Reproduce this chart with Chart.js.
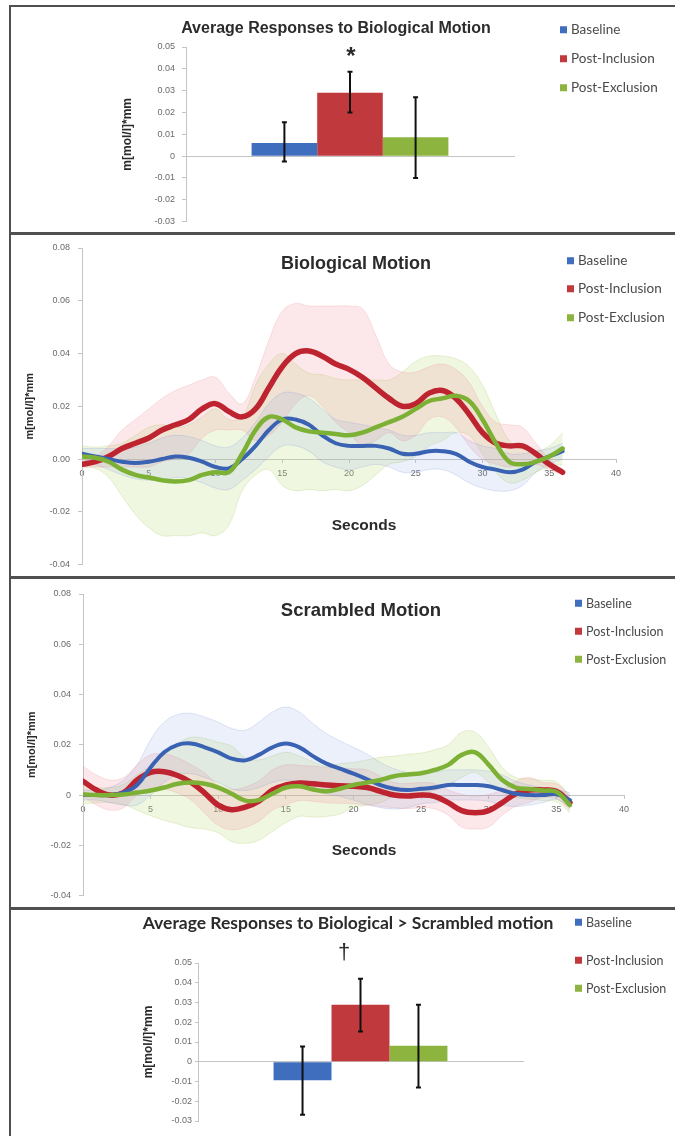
<!DOCTYPE html>
<html>
<head>
<meta charset="utf-8">
<script src="https://cdn.jsdelivr.net/npm/chart.js@4.4.1/dist/chart.umd.min.js"></script>
<style>
  html, body { margin:0; padding:0; background:#fff; }
  body { position:relative; width:675px; height:1136px; overflow:hidden; }
  canvas { position:absolute; left:0; }
  .t { position:absolute; white-space:nowrap; transform:translate(-50%,-50%); color:#2b2b2b; line-height:1; font-family:'Liberation Sans', Arial, sans-serif; font-weight:bold; }
  .lg { position:absolute; white-space:nowrap; transform:translateY(-50%); font-family:Lato, sans-serif; font-size:13.5px; color:#4a4a4a; line-height:1; }
  .lg i { display:inline-block; width:7px; height:7px; margin-right:4px; vertical-align:middle; position:relative; top:-1px; }
  .rule { position:absolute; background:#505050; }
</style>
</head>
<body>
<canvas id="c1" width="675" height="234" style="top:0px"></canvas>
<canvas id="c2" width="675" height="344" style="top:234px"></canvas>
<canvas id="c3" width="675" height="331" style="top:578px"></canvas>
<canvas id="c4" width="675" height="227" style="top:909px"></canvas>
<script>
// ---------- shared ----------
const groupNames = ['Baseline', 'Post-Inclusion', 'Post-Exclusion'];
const barColors = ['#3F6EBF', '#C0393D', '#8DB43F'];
const lineColors = ['#3A62B3', '#BE2430', '#7DB135'];
const bandColors = ['rgba(140,165,225,0.17)', 'rgba(238,140,150,0.20)', 'rgba(196,224,140,0.26)'];
const bandEdgeColors = ['rgba(120,140,210,0.22)', 'rgba(230,130,140,0.22)', 'rgba(180,205,120,0.30)'];
const barCategories = [''];
const yAxisTitle = 'm[mol/l]*mm';

// ---------- panel 1: bars, biological motion ----------
const bioBarValues = [0.006, 0.029, 0.0087];
const bioBarErrTop = [0.0155, 0.0387, 0.027];
const bioBarErrBottom = [-0.0025, 0.020, -0.010];

// ---------- panel 4: bars, biological > scrambled ----------
const diffBarValues = [-0.0094, 0.0288, 0.0081];
const diffBarErrTop = [0.0077, 0.042, 0.0288];
const diffBarErrBottom = [-0.0268, 0.0153, -0.013];

// ---------- time courses ----------
const seconds = [0,1,2,3,4,5,6,7,8,9,10,11,12,13,14,15,16,17,18,19,20,21,22,23,24,25,26,27,28,29,30,31,32,33,34,35,36];
const secondTicks = [0,5,10,15,20,25,30,35,40];

const bioBaseline = [0.002,0.001,0,-0.001,-0.0015,-0.001,0,0.001,0.0005,-0.001,-0.003,-0.0035,0,0.005,0.011,0.015,0.015,0.013,0.009,0.006,0.005,0.005,0.005,0.004,0.002,0.002,0.003,0.003,0.002,-0.001,-0.003,-0.004,-0.005,-0.004,-0.001,0.001,0.003];
const bioBaselineErr = [0.002,0.003,0.004,0.005,0.006,0.007,0.008,0.008,0.008,0.008,0.008,0.008,0.008,0.009,0.010,0.010,0.010,0.010,0.010,0.009,0.009,0.008,0.007,0.007,0.007,0.007,0.007,0.007,0.008,0.008,0.008,0.008,0.007,0.006,0.004,0.003,0.003];
const bioInclusion = [-0.002,-0.001,0.001,0.004,0.006,0.008,0.011,0.013,0.015,0.019,0.021,0.018,0.016,0.019,0.027,0.035,0.040,0.041,0.039,0.036,0.034,0.031,0.027,0.023,0.020,0.021,0.025,0.026,0.023,0.017,0.010,0.006,0.005,0.005,0.002,-0.002,-0.005];
const bioInclusionErr = [0.001,0.002,0.004,0.007,0.009,0.011,0.012,0.013,0.013,0.011,0.010,0.007,0.005,0.012,0.018,0.021,0.019,0.017,0.019,0.022,0.024,0.026,0.020,0.013,0.013,0.012,0.010,0.010,0.011,0.012,0.010,0.008,0.008,0.007,0.004,0.002,0.001];
const bioExclusion = [0.001,0.0005,-0.001,-0.004,-0.006,-0.007,-0.008,-0.0085,-0.008,-0.006,-0.005,-0.005,0.002,0.011,0.016,0.015,0.012,0.0105,0.010,0.0095,0.009,0.010,0.012,0.014,0.016,0.019,0.022,0.023,0.024,0.022,0.015,0.006,-0.001,-0.002,-0.001,0.001,0.004];
const bioExclusionErr = [0.004,0.004,0.006,0.010,0.015,0.019,0.021,0.0205,0.021,0.022,0.024,0.020,0.014,0.017,0.020,0.025,0.024,0.022,0.022,0.021,0.021,0.020,0.018,0.016,0.017,0.018,0.017,0.016,0.014,0.013,0.013,0.011,0.008,0.006,0.004,0.004,0.006];

const scrBaseline = [0,0,0,0.001,0.004,0.011,0.017,0.020,0.0205,0.019,0.017,0.0145,0.0138,0.016,0.019,0.0205,0.019,0.0155,0.0125,0.0105,0.0085,0.0063,0.004,0.0025,0.002,0.0025,0.003,0.004,0.004,0.004,0.0035,0.002,0.0005,0,0,0.0003,-0.002];
const scrBaselineErr = [0.002,0.002,0.003,0.005,0.008,0.011,0.012,0.012,0.012,0.012,0.012,0.012,0.012,0.013,0.014,0.0145,0.014,0.013,0.012,0.011,0.0105,0.010,0.009,0.008,0.007,0.006,0.006,0.006,0.006,0.006,0.006,0.006,0.005,0.004,0.003,0.002,0.003];
const scrInclusion = [0.0055,0.002,0,0.001,0.006,0.009,0.0093,0.0078,0.005,0.0008,-0.004,-0.0058,-0.0048,-0.0024,0.002,0.004,0.0048,0.0045,0.004,0.0037,0.0035,0.003,0.0015,0,-0.0004,0,-0.0005,-0.003,-0.0062,-0.007,-0.0062,-0.003,0.0005,0.002,0.002,0.0015,-0.003];
const scrInclusionErr = [0.006,0.006,0.006,0.006,0.006,0.007,0.007,0.007,0.007,0.008,0.008,0.008,0.008,0.008,0.008,0.008,0.007,0.007,0.007,0.007,0.007,0.007,0.006,0.005,0.005,0.005,0.005,0.005,0.0065,0.0065,0.0065,0.005,0.005,0.005,0.003,0.003,0.003];
const scrExclusion = [0.0003,0,0,0.0002,0.001,0.0018,0.003,0.0045,0.005,0.0045,0.003,0.0005,-0.0022,-0.002,0.0005,0.003,0.0035,0.0022,0.0015,0.0025,0.004,0.005,0.006,0.0075,0.0082,0.0087,0.010,0.012,0.016,0.017,0.012,0.006,0.003,0.0024,0.0018,0.0013,-0.004];
const scrExclusionErr = [0.004,0.003,0.003,0.004,0.007,0.010,0.013,0.016,0.018,0.018,0.018,0.019,0.017,0.016,0.015,0.014,0.012,0.011,0.010,0.010,0.009,0.009,0.009,0.008,0.008,0.008,0.008,0.008,0.009,0.008,0.007,0.005,0.004,0.004,0.004,0.004,0.003];

// ---------- helpers ----------
const tickFont = { family: "'Liberation Sans', Arial, sans-serif", size: 9 };
const tickColor = '#6a6a6a';
const axisColor = '#c4c4c4';
const fmtZero = v => { const r = Math.round(v * 100) / 100; return r === 0 ? '0' : r.toFixed(2); };
const fmtFixed = v => (Math.round(v * 100) / 100).toFixed(2);

const errorBarPlugin = {
  id: 'errorBars',
  afterDatasetsDraw(chart, args, opts) {
    const { ctx } = chart;
    const ys = chart.scales.y;
    ctx.save();
    ctx.strokeStyle = '#111';
    ctx.lineWidth = 2;
    chart.data.datasets.forEach((ds, i) => {
      const el = chart.getDatasetMeta(i).data[0];
      const top = ys.getPixelForValue(opts.top[i]);
      const bot = ys.getPixelForValue(opts.bottom[i]);
      ctx.beginPath();
      ctx.moveTo(el.x, top); ctx.lineTo(el.x, bot);
      ctx.moveTo(el.x - 2.5, top); ctx.lineTo(el.x + 2.5, top);
      ctx.moveTo(el.x - 2.5, bot); ctx.lineTo(el.x + 2.5, bot);
      ctx.stroke();
    });
    ctx.restore();
  }
};

function barPanel(id, values, errTop, errBottom, catPct, pad, yWidth, tickLen, tickPad) {
  new Chart(document.getElementById(id), {
    type: 'bar',
    data: {
      labels: barCategories,
      datasets: groupNames.map((n, k) => ({
        label: n, data: [values[k]], backgroundColor: barColors[k], borderWidth: 0,
        barPercentage: 1, categoryPercentage: catPct
      }))
    },
    options: {
      responsive: false, animation: false,
      layout: { padding: pad },
      plugins: { legend: { display: false }, tooltip: { enabled: false },
                 errorBars: { top: errTop, bottom: errBottom } },
      scales: {
        x: { type: 'category', position: { y: 0 },
             grid: { display: false }, ticks: { display: false },
             border: { display: true, color: axisColor, width: 1 },
             afterFit(s) { s.height = 0; } },
        y: { min: -0.03, max: 0.05,
             ticks: { stepSize: 0.01, font: tickFont, color: tickColor, padding: tickPad, callback: fmtZero },
             grid: { display: true, drawOnChartArea: false, drawTicks: true, tickLength: tickLen, color: axisColor },
             border: { display: true, color: axisColor, width: 1 },
             title: { display: true, text: yAxisTitle, color: '#2b2b2b', padding: 0,
                      font: { family: "'Liberation Sans', Arial, sans-serif", size: 12, weight: 'bold' } },
             afterFit(s) { s.width = yWidth; } }
      }
    },
    plugins: [errorBarPlugin]
  });
}

function linePanel(id, series, errs, fmt, pad, yWidth) {
  const datasets = [];
  const widths = [4, 5.5, 4.5];
  const orders = [2, 3, 1];
  series.forEach((vals, k) => {
    const err = errs[k];
    datasets.push({ label: groupNames[k] + ' +SE', data: seconds.map((t, i) => ({ x: t, y: vals[i] + err[i] })),
      borderColor: bandEdgeColors[k], borderWidth: 1, pointRadius: 0, tension: 0.4, fill: false, order: 10 });
    datasets.push({ label: groupNames[k] + ' -SE', data: seconds.map((t, i) => ({ x: t, y: vals[i] - err[i] })),
      borderColor: bandEdgeColors[k], borderWidth: 1, pointRadius: 0, tension: 0.4, fill: '-1',
      backgroundColor: bandColors[k], order: 10 });
  });
  series.forEach((vals, k) => {
    datasets.push({ label: groupNames[k], data: seconds.map((t, i) => ({ x: t, y: vals[i] })),
      borderColor: lineColors[k], borderWidth: widths[k], pointRadius: 0, tension: 0.4, fill: false,
      order: orders[k], borderCapStyle: 'round', borderJoinStyle: 'round' });
  });
  new Chart(document.getElementById(id), {
    type: 'line',
    data: { datasets },
    options: {
      responsive: false, animation: false,
      layout: { padding: pad },
      plugins: { legend: { display: false }, tooltip: { enabled: false } },
      scales: {
        x: { type: 'linear', min: secondTicks[0], max: secondTicks[secondTicks.length - 1], position: { y: 0 },
             afterBuildTicks(s) { s.ticks = secondTicks.map(v => ({ value: v })); },
             ticks: { font: tickFont, color: tickColor, padding: 6 },
             grid: { display: true, drawOnChartArea: false, drawTicks: true, tickLength: 3, color: axisColor },
             border: { display: true, color: axisColor, width: 1 },
             afterFit(s) { s.height = 0; } },
        y: { min: -0.04, max: 0.08,
             ticks: { stepSize: 0.02, font: tickFont, color: tickColor, padding: 8, callback: fmt },
             grid: { display: true, drawOnChartArea: false, drawTicks: true, tickLength: 4, color: axisColor },
             border: { display: true, color: axisColor, width: 1 },
             title: { display: true, text: yAxisTitle, color: '#2b2b2b', padding: 0,
                      font: { family: "'Liberation Sans', Arial, sans-serif", size: 11, weight: 'bold' } },
             afterFit(s) { s.width = yWidth; } }
      }
    }
  });
}

barPanel('c1', bioBarValues, bioBarErrTop, bioBarErrBottom, 0.6, { left: 120, right: 161, top: 47, bottom: 10 }, 66, 4, 7);
linePanel('c2', [bioBaseline, bioInclusion, bioExclusion], [bioBaselineErr, bioInclusionErr, bioExclusionErr], fmtFixed,
          { left: 23, right: 59, top: 14, bottom: 11 }, 59);
linePanel('c3', [scrBaseline, scrInclusion, scrExclusion], [scrBaselineErr, scrInclusionErr, scrExclusionErr], fmtZero,
          { left: 25, right: 51, top: 16, bottom: 9 }, 58);
barPanel('c4', diffBarValues, diffBarErrTop, diffBarErrBottom, 0.535, { left: 141, right: 152, top: 54, bottom: 15 }, 57, 3, 3);

// ---------- overlay text ----------
function addText(txt, x, y, css) {
  const d = document.createElement('div');
  d.className = 't'; d.textContent = txt;
  d.style.left = x + 'px'; d.style.top = y + 'px';
  Object.assign(d.style, css || {});
  document.body.appendChild(d);
}
function addLegend(sqX, ys, size) {
  groupNames.forEach((n, k) => {
    const d = document.createElement('div');
    d.className = 'lg';
    d.style.left = sqX + 'px'; d.style.top = ys[k] + 'px';
    if (size) d.style.fontSize = size + 'px';
    const sq = document.createElement('i'); sq.style.background = barColors[k];
    d.appendChild(sq); d.appendChild(document.createTextNode(n));
    document.body.appendChild(d);
  });
}
function addRule(x, y, w, h) {
  const d = document.createElement('div'); d.className = 'rule';
  Object.assign(d.style, { left: x + 'px', top: y + 'px', width: w + 'px', height: h + 'px' });
  document.body.appendChild(d);
}

addText('Average Responses to Biological Motion', 336, 28, { fontSize: '16px' });
addText('*', 351, 56, { fontSize: '24px' });
addLegend(560, [30, 59, 88]);

addText('Biological Motion', 356, 263, { fontSize: '18px' });
addText('Seconds', 364, 525, { fontSize: '15.5px' });
addLegend(567, [261, 289, 318]);

addText('Scrambled Motion', 361, 610, { fontSize: '18.5px' });
addText('Seconds', 364, 850, { fontSize: '15.5px' });
addLegend(575, [604, 632, 660], 12.5);

addText('Average Responses to Biological > Scrambled motion', 348, 923, { fontSize: '17.5px', fontFamily: 'Lato, sans-serif' });
addText('\u2020', 344, 952, { fontSize: '22px', fontWeight: 'normal' });
addLegend(575, [923, 961, 989], 12.5);

addRule(9, 5, 666, 2);
addRule(9, 232, 666, 3);
addRule(9, 576, 666, 3);
addRule(9, 907, 666, 3);
addRule(9, 5, 2, 1131);
</script>
</body>
</html>
